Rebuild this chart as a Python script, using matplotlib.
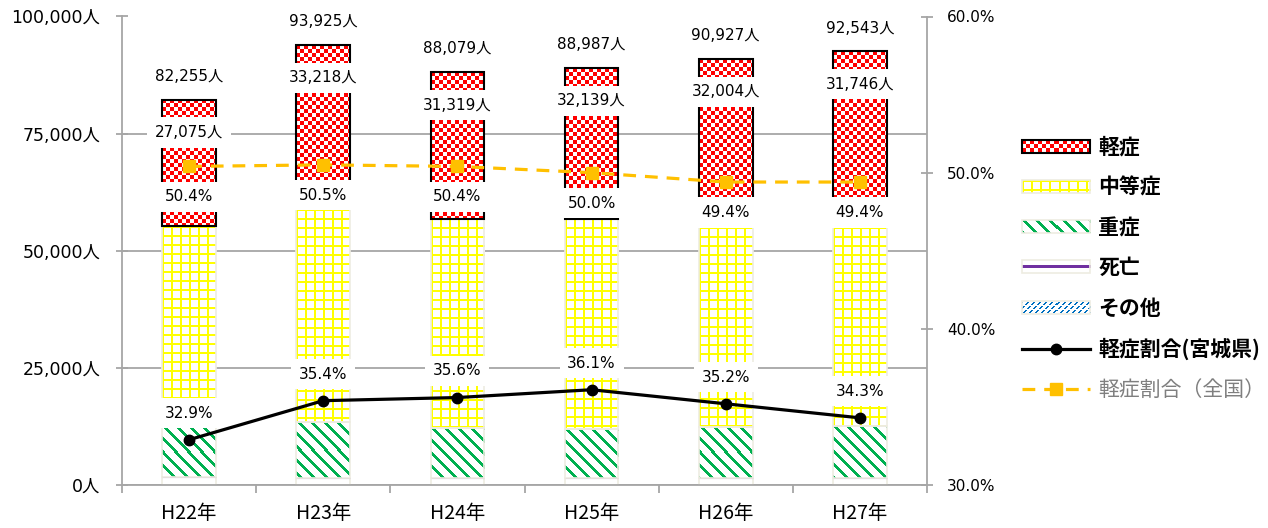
import numpy as np
import matplotlib
matplotlib.use('Agg')
import matplotlib.pyplot as plt
from matplotlib.patches import Patch, Rectangle
from matplotlib.lines import Line2D
from matplotlib.ticker import FuncFormatter

plt.rcParams['font.family'] = ['DejaVu Sans', 'Noto Sans CJK JP']

# data
years = ['H22年', 'H23年', 'H24年', 'H25年', 'H26年', 'H27年']
mild = [27075, 33218, 31319, 32139, 32004, 31746]        # 軽症
moderate = [42800, 47200, 44660, 44960, 46480, 48210]    # 中等症
severe = [10680, 12000, 10600, 10390, 10940, 11090]      # 重症
death = [90, 80, 70, 60, 70, 80]                         # 死亡
other = [1610, 1427, 1430, 1438, 1433, 1417]             # その他
total = [82255, 93925, 88079, 88987, 90927, 92543]
ratio_miyagi = [32.9, 35.4, 35.6, 36.1, 35.2, 34.3]
ratio_japan = [50.4, 50.5, 50.4, 50.0, 49.4, 49.4]

RED = '#FF0000'
YELLOW = '#FFFF00'
GREEN = '#00B050'
PURPLE = '#7030A0'
BLUE = '#0070C0'
ORANGE = '#FFC000'
BEIGE = '#EEECE1'
GRAY = '#A6A6A6'


def texture(kind, h, w):
    # pixel pattern similar to the Excel fill patterns
    r, c = np.mgrid[0:h, 0:w]
    img = np.ones((h, w, 3))
    if kind == 'mild':
        mask = ((r // 4) + (c // 4)) % 2 == 0
        col = RED
    elif kind == 'moderate':
        mask = (r % 9 < 2) | (c % 9 < 2)
        col = YELLOW
    elif kind == 'severe':
        mask = ((c - r) % 13) < 4
        col = GREEN
    elif kind == 'other':
        mask = (((c + r) % 6) < 2) & (r % 4 != 0)
        col = BLUE
    else:
        mask = np.abs(r - h // 2) <= 1
        col = PURPLE
    img[mask] = matplotlib.colors.to_rgb(col)
    return img


fig = plt.figure(figsize=(12.68, 5.28), dpi=100)
ax = fig.add_axes([122 / 1268, 43 / 528, 805 / 1268, 468.5 / 528])
ax.set_xlim(-0.5, 5.5)
ax.set_ylim(0, 100000)

x = np.arange(len(years))
w = 0.4
px_x = ax.bbox.width / 6
px_y = ax.bbox.height / 100000

bottom_death = np.array(other)
bottom_sev = bottom_death + np.array(death)
bottom_mod = bottom_sev + np.array(severe)
bottom_mild = bottom_mod + np.array(moderate)

ax.bar(x, other, w, color='white', edgecolor=BEIGE, lw=1.2, zorder=2)
ax.bar(x, death, w, bottom=bottom_death, color=PURPLE, edgecolor='#B9A3CC', lw=0.8, zorder=2)

for vals, bots, kind, edge, lw in [(severe, bottom_sev, 'severe', BEIGE, 1.2),
                                    (moderate, bottom_mod, 'moderate', BEIGE, 1.2),
                                    (mild, bottom_mild, 'mild', 'black', 1.5)]:
    for i in range(len(x)):
        hp = max(1, int(round(vals[i] * px_y)))
        wp = int(round(w * px_x))
        ax.imshow(texture(kind, hp, wp), extent=(x[i] - w / 2, x[i] + w / 2, bots[i], bots[i] + vals[i]),
                  aspect='auto', interpolation='nearest', zorder=2)
    ax.bar(x, vals, w, bottom=bots, facecolor='none', edgecolor=edge, lw=lw, zorder=2.5)

ax.set_xlim(-0.5, 5.5)
ax.set_ylim(0, 100000)
ax.set_yticks([0, 25000, 50000, 75000, 100000])
ax.yaxis.set_major_formatter(FuncFormatter(lambda v, p: f'{int(v):,}人'))
ax.yaxis.grid(True, color=GRAY, lw=1.3)
ax.set_axisbelow(True)
ax.tick_params(axis='y', direction='inout', length=9, width=1.3, color=GRAY, labelsize=12.5, pad=11)
ax.set_xticks(x, years)
ax.set_xticks(np.arange(-0.5, 6, 1), minor=True)
ax.tick_params(axis='x', which='major', length=0, pad=13, labelsize=14)
ax.tick_params(axis='x', which='minor', direction='out', length=6, width=1.3, color=GRAY)
for lab in ax.get_xticklabels():
    lab.set_family(['Noto Sans CJK JP'])
for s in ['top', 'right']:
    ax.spines[s].set_visible(False)
for s in ['left', 'bottom']:
    ax.spines[s].set_color(GRAY)
    ax.spines[s].set_linewidth(1.3)

ax2 = ax.twinx()
ax2.set_ylim(30, 60)
ax2.set_yticks([30, 40, 50, 60])
ax2.yaxis.set_major_formatter(FuncFormatter(lambda v, p: f'{v:.1f}%'))
ax2.tick_params(axis='y', direction='inout', length=9, width=1.3, color=GRAY, labelsize=11, pad=10)
for s in ['top', 'left', 'bottom']:
    ax2.spines[s].set_visible(False)
ax2.spines['right'].set_color(GRAY)
ax2.spines['right'].set_linewidth(1.3)

ax2.plot(x, ratio_japan, color=ORANGE, lw=2.3, ls=(0, (4, 2.8)), marker='s', ms=8, zorder=5)
ax2.plot(x, ratio_miyagi, color='black', lw=2.3, marker='o', ms=7.5, zorder=5)

box = dict(boxstyle='square,pad=0.5', fc='white', ec='none')
for i in range(len(x)):
    ax2.text(x[i], total[i] + 5000, f'{total[i]:,}人', transform=ax.transData,
             ha='center', va='center', fontsize=11, bbox=box, zorder=6)
    ax2.text(x[i], total[i] - 7000, f'{mild[i]:,}人', transform=ax.transData,
             ha='center', va='center', fontsize=11, bbox=box, zorder=6)
    ax2.text(x[i], ratio_miyagi[i] + 1.7, f'{ratio_miyagi[i]:.1f}%',
             ha='center', va='center', fontsize=11, bbox=box, zorder=6)
    ax2.text(x[i], ratio_japan[i] - 1.95, f'{ratio_japan[i]:.1f}%',
             ha='center', va='center', fontsize=11, bbox=box, zorder=6)

# legend
kinds = ['mild', 'moderate', 'severe', 'death', 'other']
edges = ['black', BEIGE, BEIGE, BEIGE, BEIGE]
handles = [Patch(facecolor='none', edgecolor='none') for e in edges]
handles.append(Line2D([], [], color='black', lw=2.3, marker='o', ms=7.5))
handles.append(Line2D([], [], color=ORANGE, lw=2.3, ls=(0, (4, 2.8)), marker='s', ms=8))
labels = ['軽症', '中等症', '重症', '死亡', 'その他', '軽症割合(宮城県)', '軽症割合（全国）']
leg = fig.legend(handles, labels, loc='center left', bbox_to_anchor=(1022 / 1268, 1 - 269 / 528),
                 frameon=False, borderpad=0, borderaxespad=0, handlelength=3.27, handleheight=0.58,
                 handletextpad=0.4, labelspacing=0.92,
                 prop={'family': ['Noto Sans CJK JP', 'DejaVu Sans'], 'size': 15, 'weight': 'bold'})
leg.get_texts()[6].set_color('#7F7F7F')
leg.get_texts()[6].set_fontweight('normal')

fig.canvas.draw()
W, H = fig.bbox.width, fig.bbox.height
for hnd, kind, e in zip(leg.legend_handles[:5], kinds, edges):
    bb = hnd.get_window_extent()
    hax = fig.add_axes([bb.x0 / W, bb.y0 / H, bb.width / W, bb.height / H])
    hax.set_zorder(10)
    hax.imshow(texture(kind, int(round(bb.height)), int(round(bb.width))), aspect='auto',
               interpolation='nearest')
    hax.set_axis_off()
    hax.add_patch(Rectangle((0, 0), 1, 1, transform=hax.transAxes, fill=False, ec=e,
                            lw=1.5 if e == 'black' else 1.2, clip_on=False))

fig.savefig('out.png', dpi=100)
